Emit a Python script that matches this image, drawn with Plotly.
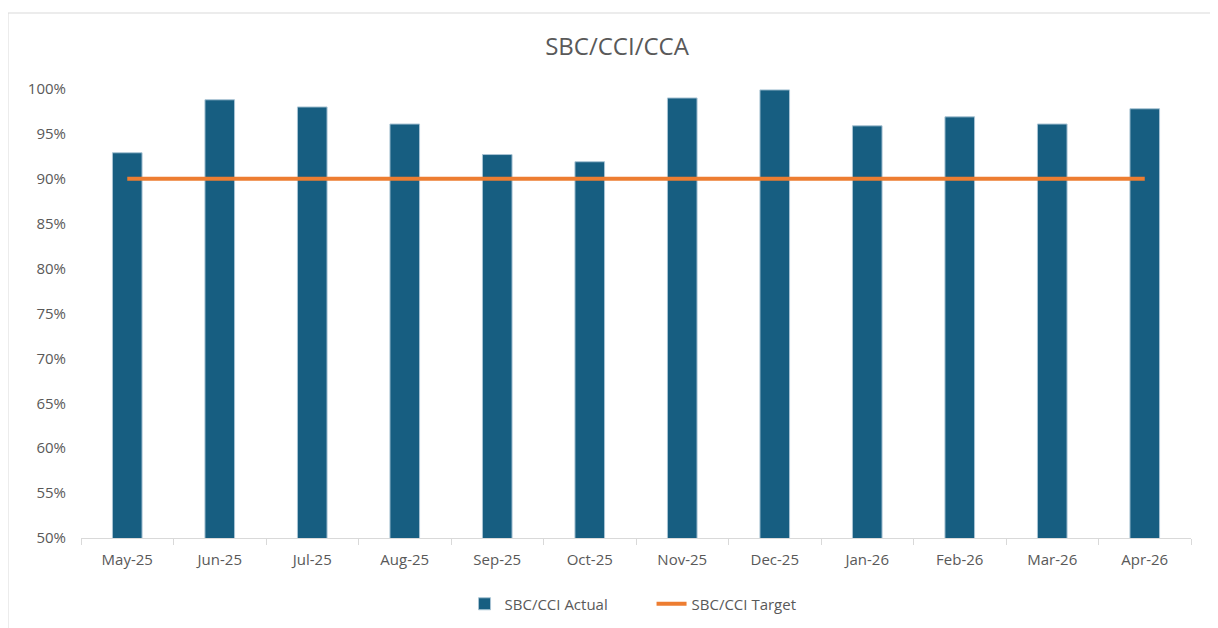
import plotly.graph_objects as go

months = ["May-25", "Jun-25", "Jul-25", "Aug-25", "Sep-25", "Oct-25",
          "Nov-25", "Dec-25", "Jan-26", "Feb-26", "Mar-26", "Apr-26"]
actual = [0.929, 0.988, 0.980, 0.961, 0.927, 0.919,
          0.990, 0.999, 0.959, 0.969, 0.961, 0.978]
target = [0.90] * 12

bar_color = "#175E81"
line_color = "#ED7D31"
text_grey = "#595959"

fig = go.Figure()
fig.add_trace(go.Bar(
    x=months, y=actual, name="SBC/CCI Actual",
    marker=dict(color=bar_color, line=dict(color="#A9C4D4", width=1)),
))
fig.add_trace(go.Scatter(
    x=months, y=target, name="SBC/CCI Target", mode="lines",
    line=dict(color=line_color, width=4),
))

# page body adds 8px offset, margins compensate
fig.update_layout(
    width=1218, height=628,
    paper_bgcolor="white", plot_bgcolor="white",
    font=dict(family="Open Sans", size=15, color=text_grey),
    title=dict(text="SBC/CCI/CCA", x=0.5, xanchor="center",
               yref="container", y=0.938, yanchor="middle",
               font=dict(size=24, color=text_grey)),
    margin=dict(l=73, r=35, t=81, b=98),
    bargap=0.68,
    showlegend=True,
    legend=dict(orientation="h", x=0.514, xanchor="center", y=-0.147,
                yanchor="middle", entrywidth=142, entrywidthmode="pixels",
                font=dict(size=15, color=text_grey)),
    shapes=[dict(type="rect", xref="paper", yref="paper",
                 x0=-73 / 1110, x1=1 + 21 / 1110,
                 y0=-0.3, y1=1 + 76 / 449,
                 line=dict(color="#D9D9D9", width=1), layer="below")],
)
fig.update_xaxes(showline=True, linecolor="#D9D9D9", linewidth=1,
                 ticks="outside", tickson="boundaries", ticklen=6,
                 tickcolor="#D9D9D9", showgrid=False, automargin=False,
                 ticklabelstandoff=8,
                 tickfont=dict(size=15, color=text_grey))
fig.update_yaxes(range=[0.5, 1.0], dtick=0.05, tickformat=".0%",
                 showgrid=False, showline=False, zeroline=False,
                 ticks="", automargin=False, ticklabelstandoff=14,
                 tickfont=dict(size=15, color=text_grey))

fig.write_html("out.html")
